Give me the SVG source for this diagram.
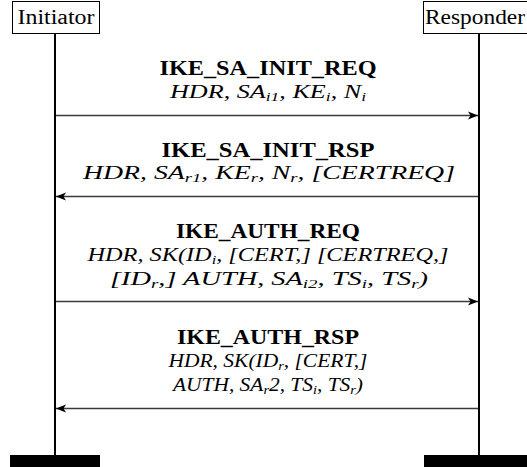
<svg xmlns="http://www.w3.org/2000/svg" width="527" height="467" viewBox="0 0 527 467">
<style>
.box{fill:#fff;stroke:#000;stroke-width:1}
.name{font-family:"Liberation Serif",serif;font-size:20px;fill:#000}
.life{stroke:#000;stroke-width:2;fill:none}
.bar{fill:#000}
.msg{stroke:#3a3a3a;stroke-width:1.3;fill:none}
.title{font-family:"Liberation Serif",serif;font-size:20px;font-weight:bold;fill:#000}
.it{font-family:"Liberation Serif",serif;font-size:18px;font-style:italic;fill:#000}
.sub{font-size:12px}
</style>
<defs>
<marker id="ah" markerUnits="userSpaceOnUse" markerWidth="12" markerHeight="10" refX="10" refY="5" orient="auto">
<path d="M0,1 L10,5 L0,9 L2.5,5 Z" fill="#000"/>
</marker>
</defs>
<g id="initiator">
<rect class="box" x="12.5" y="1.5" width="87" height="32"/>
<text class="name" x="56" y="24" text-anchor="middle" textLength="77" lengthAdjust="spacingAndGlyphs">Initiator</text>
<line class="life" x1="55" y1="34" x2="55" y2="456"/>
<rect class="bar" x="10" y="455" width="90" height="12"/>
</g>
<g id="responder">
<rect class="box" x="423.5" y="1.5" width="105" height="32"/>
<text class="name" x="475" y="24" text-anchor="middle" textLength="100" lengthAdjust="spacingAndGlyphs">Responder</text>
<line class="life" x1="479" y1="34" x2="479" y2="456"/>
<rect class="bar" x="424" y="455" width="103" height="12"/>
</g>
<g id="connectors">
<line class="msg" x1="56" y1="115.5" x2="478" y2="115.5" marker-end="url(#ah)"/>
<line class="msg" x1="478" y1="196.5" x2="56" y2="196.5" marker-end="url(#ah)"/>
<line class="msg" x1="56" y1="301.5" x2="478" y2="301.5" marker-end="url(#ah)"/>
<line class="msg" x1="478" y1="408.5" x2="56" y2="408.5" marker-end="url(#ah)"/>
</g>
<g id="msg1">
<text class="title" x="268" y="75" text-anchor="middle" textLength="217" lengthAdjust="spacingAndGlyphs">IKE_SA_INIT_REQ</text>
<text class="it" x="268" y="98" text-anchor="middle" textLength="196" lengthAdjust="spacingAndGlyphs">HDR, SA<tspan class="sub" dy="3">i1</tspan><tspan dy="-3">, KE</tspan><tspan class="sub" dy="3">i</tspan><tspan dy="-3">, N</tspan><tspan class="sub" dy="3">i</tspan></text>
</g>
<g id="msg2">
<text class="title" x="268" y="157" text-anchor="middle" textLength="213" lengthAdjust="spacingAndGlyphs">IKE_SA_INIT_RSP</text>
<text class="it" x="269" y="179" text-anchor="middle" textLength="372" lengthAdjust="spacingAndGlyphs">HDR, SA<tspan class="sub" dy="3">r1</tspan><tspan dy="-3">, KE</tspan><tspan class="sub" dy="3">r</tspan><tspan dy="-3">, N</tspan><tspan class="sub" dy="3">r</tspan><tspan dy="-3">, [CERTREQ]</tspan></text>
</g>
<g id="msg3">
<text class="title" x="268" y="238" text-anchor="middle" textLength="184" lengthAdjust="spacingAndGlyphs">IKE_AUTH_REQ</text>
<text class="it" x="268" y="261" text-anchor="middle" textLength="361" lengthAdjust="spacingAndGlyphs">HDR, SK(ID<tspan class="sub" dy="3">i</tspan><tspan dy="-3">, [CERT,] [CERTREQ,]</tspan></text>
<text class="it" x="269" y="285" text-anchor="middle" textLength="318" lengthAdjust="spacingAndGlyphs">[ID<tspan class="sub" dy="3">r</tspan><tspan dy="-3">,] AUTH, SA</tspan><tspan class="sub" dy="3">i2</tspan><tspan dy="-3">, TS</tspan><tspan class="sub" dy="3">i</tspan><tspan dy="-3">, TS</tspan><tspan class="sub" dy="3">r</tspan><tspan dy="-3">)</tspan></text>
</g>
<g id="msg4">
<text class="title" x="268" y="344" text-anchor="middle" textLength="182" lengthAdjust="spacingAndGlyphs">IKE_AUTH_RSP</text>
<text class="it" x="268" y="367" text-anchor="middle" textLength="199" lengthAdjust="spacingAndGlyphs">HDR, SK(ID<tspan class="sub" dy="3">r</tspan><tspan dy="-3">, [CERT,]</tspan></text>
<text class="it" x="268" y="391" text-anchor="middle" textLength="190" lengthAdjust="spacingAndGlyphs">AUTH, SA<tspan class="sub" dy="3">r</tspan><tspan dy="-3">2, TS</tspan><tspan class="sub" dy="3">i</tspan><tspan dy="-3">, TS</tspan><tspan class="sub" dy="3">r</tspan><tspan dy="-3">)</tspan></text>
</g>
</svg>
